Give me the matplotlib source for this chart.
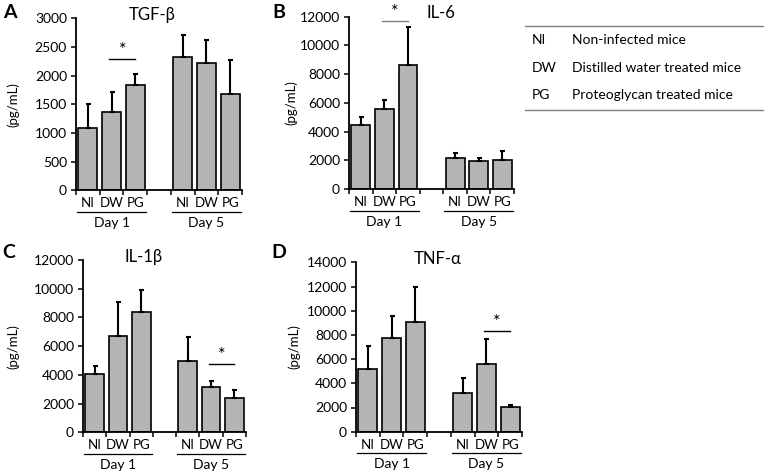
import matplotlib
matplotlib.use('Agg')
import matplotlib.pyplot as plt
import numpy as np

plt.rcParams['font.family'] = ['Lato', 'DejaVu Sans']

#### DATA ####
groups = ['NI', 'DW', 'PG']
days = ['Day 1', 'Day 5']
slots = [0, 1, 2, 4, 5, 6]

tgf_mean = [1090, 1360, 1840, 2330, 2220, 1680]
tgf_err = [410, 350, 190, 390, 410, 590]
il6_mean = [4480, 5570, 8660, 2140, 1970, 2000]
il6_err = [510, 600, 2600, 370, 210, 620]
il1b_mean = [4080, 6680, 8400, 4960, 3150, 2360]
il1b_err = [540, 2370, 1500, 1700, 400, 560]
tnf_mean = [5200, 7740, 9060, 3160, 5620, 2040]
tnf_err = [1910, 1820, 2920, 1240, 2060, 160]

legend_abbr = ['NI', 'DW', 'PG']
legend_text = ['Non-infected mice', 'Distilled water treated mice', 'Proteoglycan treated mice']

W, H = 766, 474


def px(l, r, top, bottom):
    return [l / W, 1 - bottom / H, (r - l) / W, (bottom - top) / H]


# letter, title, title x (axes frac), means, errs, ymax, ystep, sig (slot1, slot2, y, color), ylabel x, box, letter pos
panels = [
    ('A', 'TGF-β', 0.46, tgf_mean, tgf_err, 3000, 500, (1, 2, 2290, 'k'), -0.38, px(76, 242, 18.5, 190.3), (10, 13)),
    ('B', 'IL-6', 0.56, il6_mean, il6_err, 12000, 2000, (1, 2, 11720, '0.5'), -0.35, px(349, 514, 16.7, 189), (279, 13)),
    ('C', 'IL-1β', 0.37, il1b_mean, il1b_err, 12000, 2000, (5, 6, 4760, 'k'), -0.43, px(83, 246, 260, 432.3), (9, 253)),
    ('D', 'TNF-α', 0.49, tnf_mean, tnf_err, 14000, 2000, (5, 6, 8350, 'k'), -0.37, px(356, 522, 262.3, 431.7), (279, 252)),
]

fig = plt.figure(figsize=(W / 100, H / 100), dpi=100)

for letter, title, tx, means, errs, ymax, ystep, sig, ylx, box, lpos in panels:
    ax = fig.add_axes(box)
    ax.bar(slots, means, width=0.8, color='#b4b4b4', edgecolor='k', linewidth=1.2, zorder=2)
    ax.errorbar(slots, means, yerr=[np.zeros(len(errs)), errs], fmt='none', ecolor='k',
                elinewidth=1.5, capsize=1.8, capthick=1.5, zorder=3)
    ax.set_xlim(-0.5, 6.5)
    ax.set_ylim(0, ymax)
    ax.set_yticks(np.arange(0, ymax + 1, ystep))
    ax.set_xticks(np.arange(-0.5, 7, 1))
    ax.set_xticklabels([])
    ax.set_xticks(slots, minor=True)
    ax.set_xticklabels(groups * 2, minor=True)
    ax.tick_params(axis='x', which='minor', length=0, pad=5, labelsize=9.5)
    ax.tick_params(axis='x', which='major', length=3.5, width=1.1, direction='out')
    ax.tick_params(axis='y', length=3.5, width=1.1, direction='out', labelsize=10, pad=3)
    for s in ['top', 'right']:
        ax.spines[s].set_visible(False)
    for s in ['left', 'bottom']:
        ax.spines[s].set_linewidth(1.3)

    # group underline and day label
    trans = ax.get_xaxis_transform()
    for k, day in enumerate(days):
        x0 = slots[3 * k]
        x1 = slots[3 * k + 2]
        ax.plot([x0 - 0.45, x1 + 0.45], [-0.125, -0.125], color='k', lw=0.9,
                transform=trans, clip_on=False)
        ax.text((x0 + x1) / 2, -0.19, day, transform=trans, ha='center', va='center', fontsize=10)

    # significance line
    s1, s2, sy, sc = sig
    ax.plot([s1 - 0.1, s2], [sy, sy], color=sc, lw=1.0, clip_on=False)
    ax.annotate('*', xy=((s1 - 0.1 + s2) / 2, sy), xytext=(0, 6.5), textcoords='offset points',
                ha='center', va='center', fontsize=13, annotation_clip=False)

    ax.text(tx, 1.02, title, transform=ax.transAxes, ha='center', va='center', fontsize=12)
    ax.text(ylx, 0.5, '(pg/mL)', transform=ax.transAxes, rotation=90, ha='center', va='center', fontsize=9.5)
    fig.text(lpos[0] / W, 1 - lpos[1] / H, letter, fontsize=14, fontweight='bold', ha='center', va='center')

# legend table on the right
fig.add_artist(plt.Line2D([525 / W, 763 / W], [1 - 26 / H, 1 - 26 / H], color='0.5', lw=1.0))
fig.add_artist(plt.Line2D([525 / W, 763 / W], [1 - 110 / H, 1 - 110 / H], color='0.5', lw=1.0))
for k, (ab, tx) in enumerate(zip(legend_abbr, legend_text)):
    yy = 1 - (40 + 27.5 * k) / H
    fig.text(532 / W, yy, ab, fontsize=10, ha='left', va='center')
    fig.text(572 / W, yy, tx, fontsize=10, ha='left', va='center')

fig.savefig('out.png', dpi=100)
